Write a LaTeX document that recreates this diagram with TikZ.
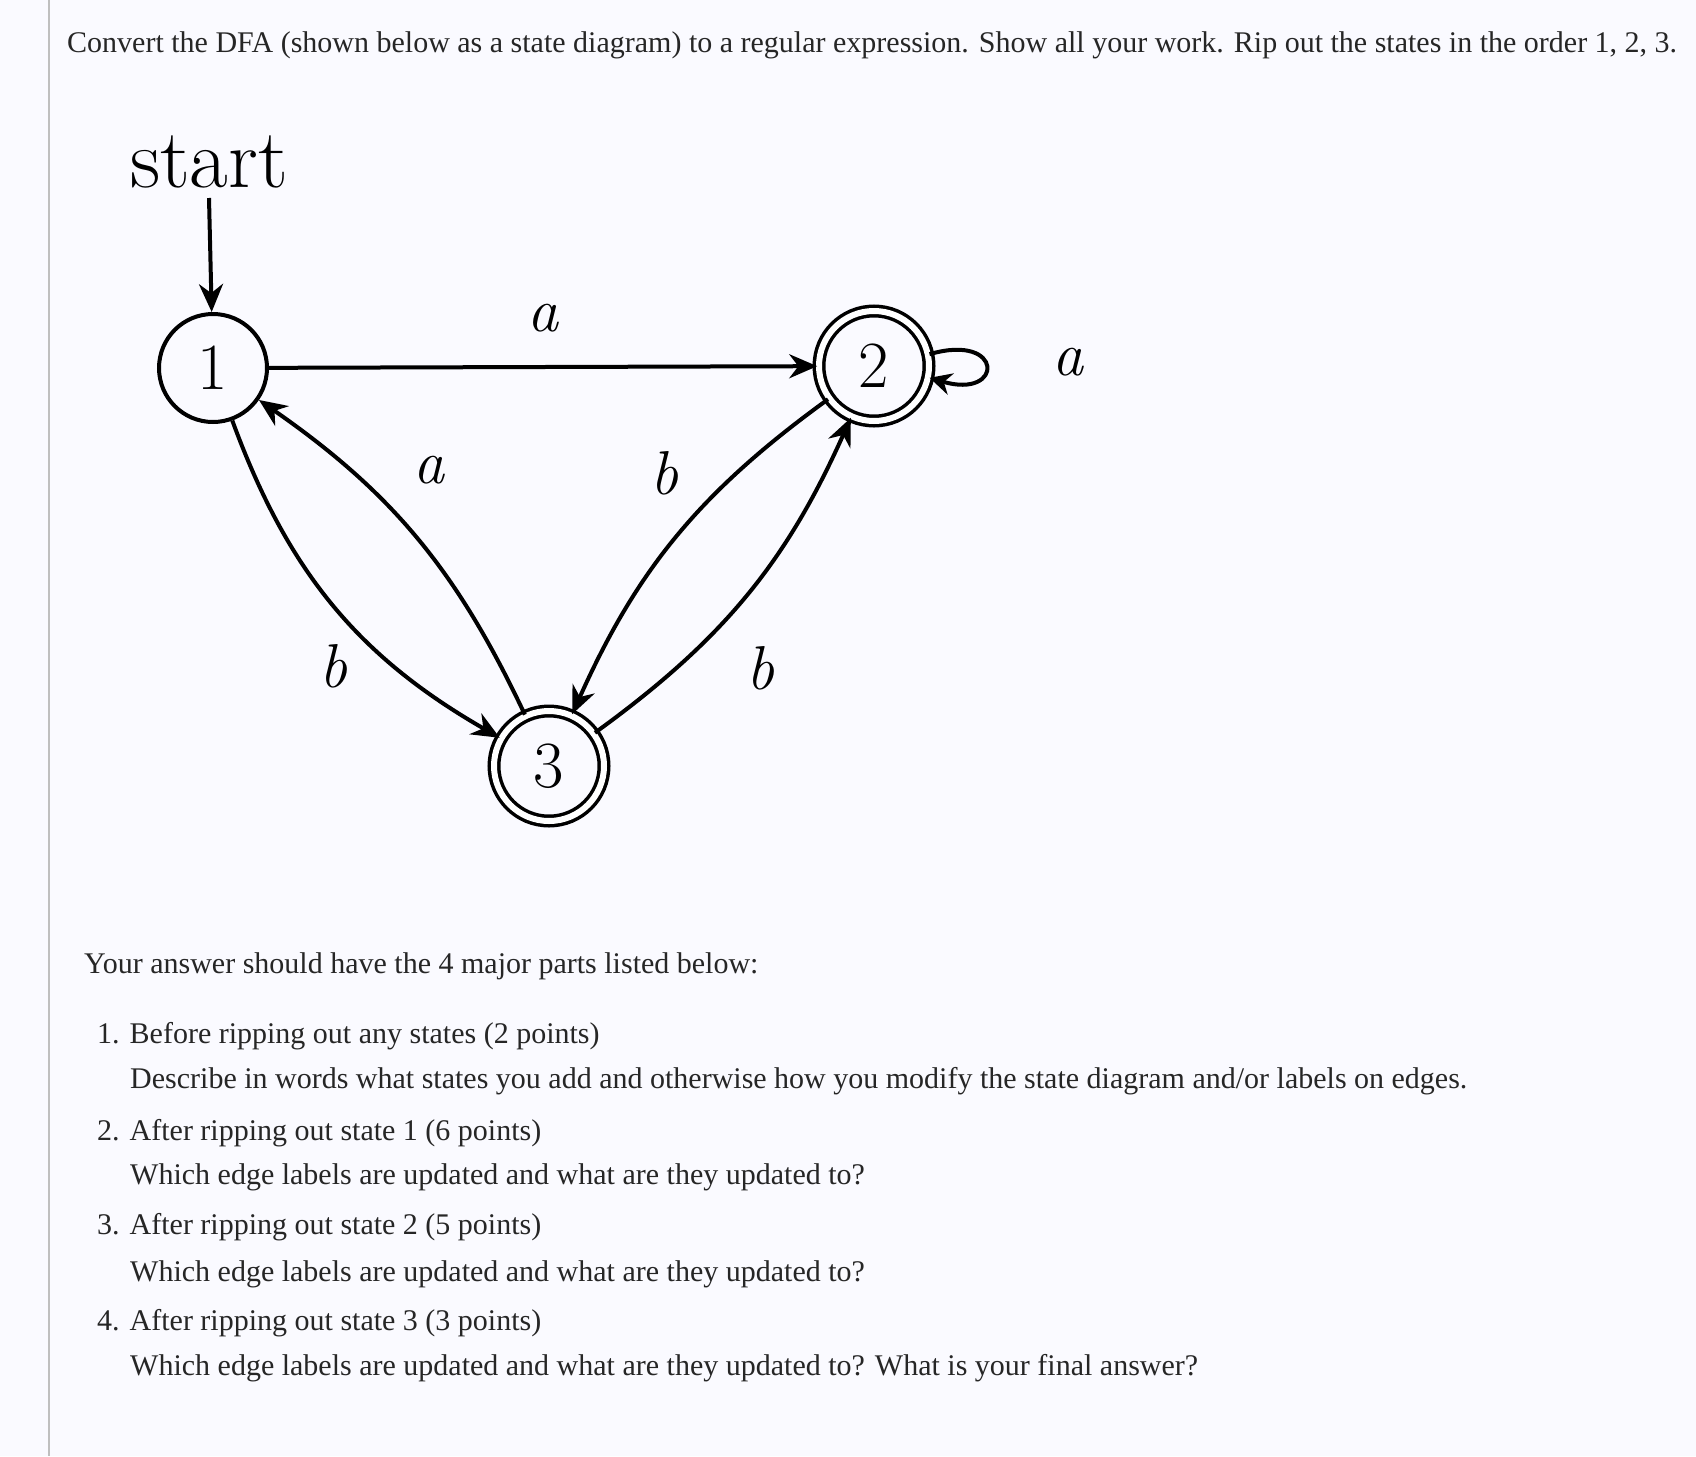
\documentclass[tikz,border=0pt]{standalone}
\usepackage{fontspec}
\setmainfont{Liberation Serif}
\newfontfamily\lmfont{Latin Modern Roman}
\usetikzlibrary{arrows.meta,automata}
\begin{document}
\begin{tikzpicture}[x=1pt,y=-1pt,
  st/.style={circle,draw,line width=4pt,minimum size=108pt,inner sep=0pt,font=\lmfont\fontsize{66}{66}\selectfont},
  acc/.style={st,double,double distance=6pt,line width=3.5pt,minimum size=110pt},
  ed/.style={line width=4pt,-{Stealth[length=28pt,width=24pt]}},
  lab/.style={font=\lmfont\itshape\fontsize{62}{62}\selectfont},
  txt/.style={anchor=base west,inner sep=0pt,font=\fontsize{30}{34}\selectfont,text=black!85}]
\useasboundingbox (0,0) rectangle (1696,1456);
\fill[green!3!blue!2!white] (0,0) rectangle (1696,1456);
\draw[black!25,line width=1.5pt] (49,0) -- (49,1456);
\node[txt] (h) at (67,52) {Convert the DFA (shown below as a state diagram) to a regular expression. Show all your work. Rip out the states in the order 1, 2, 3.};
\node (start) at (209,162) {\lmfont\fontsize{84}{84}\selectfont start};
\node[st] (s1) at (213,368) {1};
\node[acc] (s2) at (874,366) {2};
\node[acc] (s3) at (549,766) {3};
\coordinate (st0) at (209,198);
\draw[ed] (st0) -- (s1);
\draw[ed] (s1) -- (s2);
\draw[ed] (s3) to[bend right=15] (s1);
\draw[ed] (s1) to[bend right=20] (s3);
\draw[ed] (s2) to[bend right=15] (s3);
\draw[ed] (s3) to[bend right=15] (s2);
\draw[ed,-{Stealth[length=22pt,width=22pt]}] (s2.12) .. controls +(75,-22) and +(75,22) .. (s2.-12);
\node[lab] (l12) at (543,318) {a};
\node[lab] (l31) at (429,470) {a};
\node[lab] (l13) at (333,666) {b};
\node[lab] (l23) at (664,473) {b};
\node[lab] (l32) at (760,668) {b};
\node[lab] (la) at (1068,362) {a};
\node[txt] (y) at (84,973) {Your answer should have the 4 major parts listed below:};
\node[txt] (i1) at (97,1043) {1. Before ripping out any states (2 points)};
\node[txt] (d1) at (130,1088) {Describe in words what states you add and otherwise how you modify the state diagram and/or labels on edges.};
\node[txt] (i2) at (97,1140) {2. After ripping out state 1 (6 points)};
\node[txt] (d2) at (130,1184) {Which edge labels are updated and what are they updated to?};
\node[txt] (i3) at (97,1234) {3. After ripping out state 2 (5 points)};
\node[txt] (d3) at (130,1281) {Which edge labels are updated and what are they updated to?};
\node[txt] (i4) at (97,1330) {4. After ripping out state 3 (3 points)};
\node[txt] (d4) at (130,1375) {Which edge labels are updated and what are they updated to? What is your final answer?};
\end{tikzpicture}
\end{document}
